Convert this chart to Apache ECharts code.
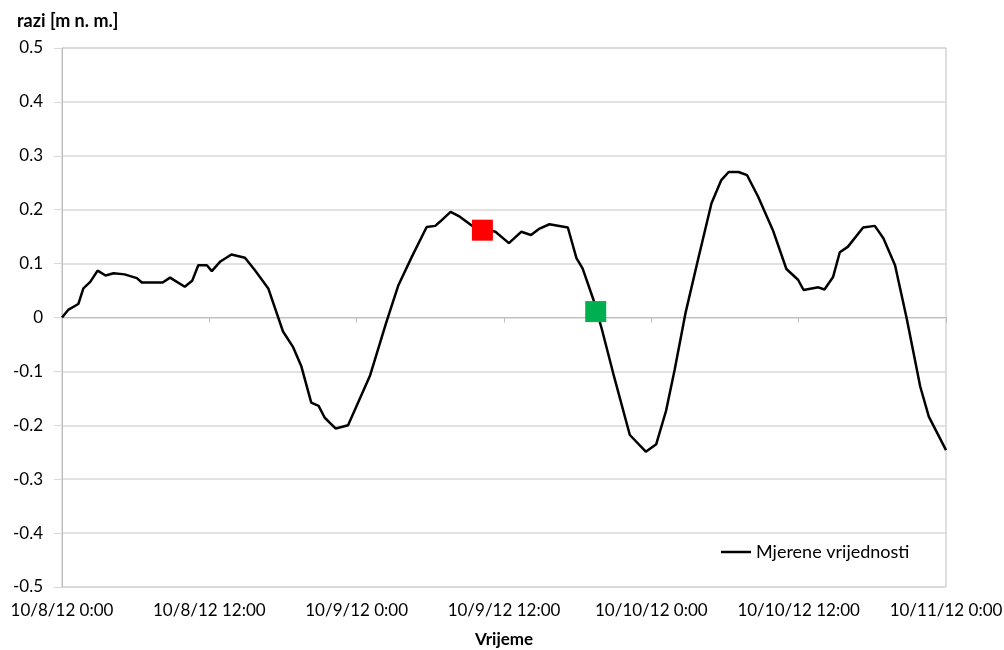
<!DOCTYPE html>
<html>
<head>
<meta charset="utf-8">
<script src="https://cdn.jsdelivr.net/npm/echarts@6/dist/echarts.min.js"></script>
<style>
  html, body { margin: 0; padding: 0; background: #ffffff; }
  #chart { width: 1004px; height: 650px; }
</style>
</head>
<body>
<div id="chart"></div>
<script>
// Time since 10/8/12 0:00, in hours
const hours = [
  0, 0.5, 1.33, 1.74, 2.3, 2.9, 3.55, 4.2, 5.1, 6.1, 6.5, 8.2, 8.8, 10, 10.6, 11.1, 11.8,
  12.2, 12.9, 13.8, 14.9, 15.7, 16.8, 18, 18.8, 19.5, 20.3, 20.9, 21.4, 22.3, 23.3,
  25.1, 26.4, 27.4, 28.5, 29.7, 30.4, 30.8, 31.65, 32.4, 33.4, 35.3, 36.4, 37.4,
  38.2, 38.9, 39.7, 41.2, 41.9, 42.4, 43.3, 43.95, 44.9, 46.25, 47.55, 48.4, 49.2,
  49.9, 50.8, 51.8, 52.9, 53.7, 54.3, 55.1, 55.8, 56.7, 57.9, 59.0, 59.95, 60.4,
  61.6, 62.1, 62.8, 63.35, 64.0, 65.25, 66.2, 66.9, 67.85, 68.8, 69.9, 70.6, 72
];
// Measured water level [m n. m.]
const levels = [
  0, 0.014, 0.025, 0.054, 0.066, 0.087, 0.078, 0.082, 0.080, 0.073, 0.065, 0.065, 0.074, 0.057, 0.068, 0.097, 0.097,
  0.086, 0.104, 0.117, 0.111, 0.088, 0.054, -0.026, -0.054, -0.091, -0.158, -0.164, -0.186, -0.206, -0.200,
  -0.107, -0.010, 0.060, 0.113, 0.168, 0.170, 0.178, 0.196, 0.187, 0.170, 0.159, 0.138, 0.159,
  0.153, 0.165, 0.173, 0.167, 0.110, 0.091, 0.032, -0.020, -0.104, -0.218, -0.249, -0.235, -0.173,
  -0.097, 0.010, 0.107, 0.212, 0.255, 0.270, 0.270, 0.264, 0.224, 0.162, 0.090, 0.070, 0.051,
  0.056, 0.052, 0.075, 0.121, 0.131, 0.167, 0.170, 0.147, 0.097, -0.002, -0.128, -0.184, -0.246
];
// Highlighted moments
const redPoint = [34.24, 0.162];
const greenPoint = [43.47, 0.011];

// X tick labels, one every 12 hours
const tickLabels = [
  '10/8/12 0:00', '10/8/12 12:00', '10/9/12 0:00', '10/9/12 12:00',
  '10/10/12 0:00', '10/10/12 12:00', '10/11/12 0:00'
];

const FONT = 'Lato';
const chart = echarts.init(document.getElementById('chart'), null, { renderer: 'canvas' });

chart.setOption({
  animation: false,
  backgroundColor: '#ffffff',
  textStyle: { fontFamily: FONT },
  title: {
    text: 'razi [m n. m.]',
    left: 12,
    top: 7,
    textStyle: { fontFamily: FONT, fontSize: 18, fontWeight: 'bold', color: '#000000' }
  },
  legend: {
    left: 716,
    top: 538,
    itemWidth: 30,
    itemHeight: 2.5,
    itemGap: 5,
    data: [{ name: 'Mjerene vrijednosti', icon: 'rect' }],
    textStyle: { fontFamily: FONT, fontSize: 18, color: '#000000' }
  },
  grid: {
    left: 62, right: 58, top: 48, bottom: 63,
    outerBoundsMode: 'none',
    containLabel: false,
    show: true, borderColor: '#bfbfbf', borderWidth: 1
  },
  xAxis: {
    type: 'value',
    min: 0, max: 72, interval: 12,
    name: 'Vrijeme',
    nameLocation: 'middle',
    nameGap: 44,
    nameTextStyle: { fontFamily: FONT, fontSize: 17, fontWeight: 'bold', color: '#000000' },
    axisLine: { show: true, lineStyle: { color: '#bfbfbf' } },
    axisTick: { show: true, length: 5, lineStyle: { color: '#bfbfbf' } },
    splitLine: { show: false },
    axisLabel: {
      margin: 15,
      fontFamily: FONT, fontSize: 17, color: '#000000',
      formatter: v => tickLabels[Math.round(v / 12)]
    }
  },
  yAxis: {
    type: 'value',
    min: -0.5, max: 0.5, interval: 0.1,
    axisLine: { show: true, lineStyle: { color: '#bfbfbf' } },
    axisTick: { show: true, length: 8, lineStyle: { color: '#d9d9d9' } },
    splitLine: { show: true, lineStyle: { color: '#d9d9d9', width: 1.5 } },
    axisLabel: {
      margin: 19,
      fontFamily: FONT, fontSize: 17, color: '#000000',
      formatter: v => (Math.round(v * 10) / 10).toString()
    }
  },
  series: [
    {
      name: 'Mjerene vrijednosti',
      type: 'line',
      symbol: 'none',
      lineStyle: { color: '#000000', width: 2.5 },
      itemStyle: { color: '#000000' },
      data: hours.map((h, i) => [h, levels[i]]),
      z: 2
    },
    {
      name: 'red',
      type: 'scatter',
      symbol: 'rect',
      symbolSize: 21,
      itemStyle: { color: '#ff0000', opacity: 1 },
      data: [redPoint],
      z: 3
    },
    {
      name: 'green',
      type: 'scatter',
      symbol: 'rect',
      symbolSize: 21,
      itemStyle: { color: '#00b050', opacity: 1 },
      data: [greenPoint],
      z: 3
    }
  ]
});
</script>
</body>
</html>
